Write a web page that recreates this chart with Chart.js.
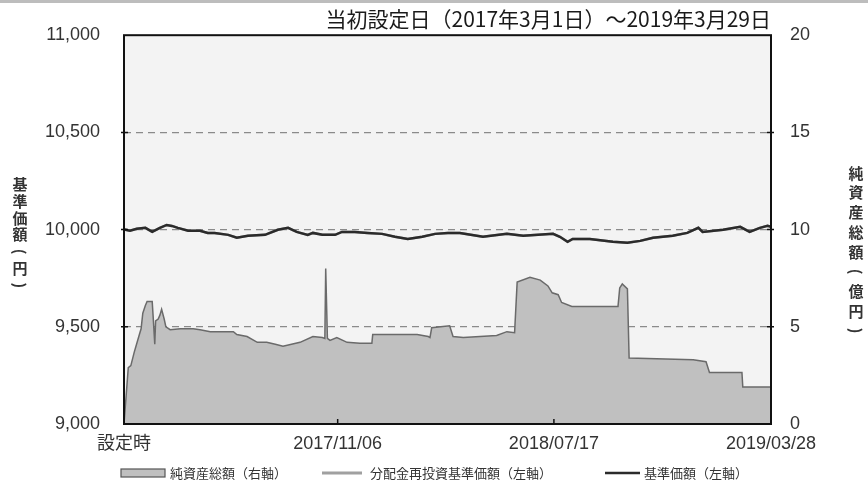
<!DOCTYPE html>
<html>
<head>
<meta charset="utf-8">
<script src="https://cdn.jsdelivr.net/npm/chart.js@4"></script>
<style>
html,body{margin:0;padding:0;background:#fff}
canvas{display:block}
</style>
</head>
<body>
<canvas id="chart" width="868" height="484"></canvas>
<script>
// days counted from 2017/03/01 (設定日)
const xTickDays = [0, 250, 503, 757];
const xTickLabels = ['設定時', '2017/11/06', '2018/07/17', '2019/03/28'];

// 純資産総額 (億円, right axis)
const netAssetDay = [0,5,8,12,14,18,20,22,25,27,33,34,36,37,40,42,44,47,49,54,66,81,89,101,128,132,144,156,167,177,186,206,221,232,235,236,238,241,249,261,276,290,291,343,356,358,360,381,385,397,436,448,457,460,475,487,496,501,508,512,524,578,580,583,589,591,666,681,685,723,724,757];
const netAsset = [0,2.9,3.0,3.7,4.0,4.6,4.9,5.7,6.1,6.3,6.3,5.6,4.1,5.3,5.4,5.6,5.9,5.4,5.0,4.85,4.9,4.9,4.85,4.75,4.75,4.6,4.5,4.2,4.2,4.1,4.0,4.2,4.5,4.45,4.4,8.0,4.4,4.3,4.45,4.2,4.15,4.15,4.6,4.6,4.5,4.45,4.95,5.05,4.5,4.45,4.55,4.75,4.7,7.3,7.55,7.4,7.1,6.75,6.65,6.25,6.05,6.05,7.0,7.2,6.95,3.4,3.3,3.2,2.65,2.65,1.9,1.9];

// 基準価額 (円, left axis)
const navDay = [0,7,15,25,33,42,50,56,63,75,89,98,106,122,132,145,165,180,192,202,215,221,232,247,255,270,285,302,317,332,349,364,379,393,420,448,467,502,510,519,525,545,572,589,604,619,642,659,672,677,701,721,732,744,753,757];
const navValue = [10000,9994,10004,10009,9988,10009,10024,10019,10009,9994,9994,9983,9983,9973,9958,9968,9973,9999,10009,9988,9973,9983,9973,9973,9988,9988,9983,9978,9963,9952,9963,9978,9983,9983,9963,9978,9968,9978,9963,9937,9952,9952,9937,9932,9942,9958,9968,9983,10009,9988,9999,10014,9988,10009,10019,10014];
// 分配金再投資基準価額: no distributions, sits under the NAV line
const reinvestValue = navValue.slice();

const titleText = '当初設定日（2017年3月1日）～2019年3月29日';
const leftTitle = '基準価額(円)';
const rightTitle = '純資産総額(億円)';

const tickFont = {family: "'Liberation Sans','Noto Sans CJK JP',sans-serif", size: 18};
const jpFont = "'Noto Sans CJK JP',sans-serif";

function pts(xs, ys){ return xs.map((x,i)=>({x, y: ys[i]})); }

// vertical text, brackets turned sideways
function drawVertical(ctx, text, x, y0, step){
  Array.from(text).forEach((ch,i)=>{
    const y = y0 + i*step;
    if (ch === '(' || ch === ')'){
      ctx.save();
      ctx.translate(x, y);
      ctx.rotate(Math.PI/2);
      ctx.fillText(ch, 0, 0);
      ctx.restore();
    } else {
      ctx.fillText(ch, x, y);
    }
  });
}

const decor = {
  id: 'decor',
  beforeDraw(chart){
    const {ctx, chartArea: a} = chart;
    ctx.save();
    ctx.fillStyle = '#fff';
    ctx.fillRect(0, 0, chart.width, chart.height);
    ctx.fillStyle = '#bdbdbd';
    ctx.fillRect(0, 0, chart.width, 3);
    ctx.fillStyle = '#f3f3f3';
    ctx.fillRect(a.left, a.top, a.right - a.left, a.bottom - a.top);
    ctx.restore();
  },
  afterDatasetsDraw(chart){
    const {ctx, chartArea: a, scales} = chart;
    ctx.save();
    ctx.strokeStyle = '#111';
    ctx.lineWidth = 2;
    ctx.strokeRect(a.left, a.top, a.right - a.left, a.bottom - a.top);
    ctx.lineWidth = 1.5;
    ctx.beginPath();
    [9500, 10000, 10500].forEach(v=>{
      const y = scales.y.getPixelForValue(v);
      ctx.moveTo(a.left - 3, y); ctx.lineTo(a.left + 4, y);
    });
    [5, 10, 15].forEach(v=>{
      const y = scales.y1.getPixelForValue(v);
      ctx.moveTo(a.right - 4, y); ctx.lineTo(a.right + 3, y);
    });
    xTickDays.slice(1, -1).forEach(v=>{
      const x = scales.x.getPixelForValue(v);
      ctx.moveTo(x, a.bottom); ctx.lineTo(x, a.bottom - 5);
    });
    ctx.stroke();
    ctx.restore();
  },
  afterDraw(chart){
    const ctx = chart.ctx;
    ctx.save();
    ctx.fillStyle = '#333';
    ctx.textAlign = 'center';
    ctx.textBaseline = 'middle';
    ctx.font = 'bold 15px ' + jpFont;
    drawVertical(ctx, leftTitle, 20, 184, 16.9);
    drawVertical(ctx, rightTitle, 856, 173, 19.7);

    // legend
    const ly = 473;
    ctx.font = '13px ' + jpFont;
    ctx.textAlign = 'left';
    ctx.fillStyle = '#c0c0c0';
    ctx.fillRect(121, ly - 4, 44, 8);
    ctx.strokeStyle = '#555';
    ctx.lineWidth = 1.2;
    ctx.strokeRect(121, ly - 4, 44, 8);
    ctx.fillStyle = '#333';
    ctx.fillText('純資産総額（右軸）', 170, ly);
    ctx.strokeStyle = '#a0a0a0';
    ctx.lineWidth = 3;
    ctx.beginPath(); ctx.moveTo(322, ly); ctx.lineTo(362, ly); ctx.stroke();
    ctx.fillText('分配金再投資基準価額（左軸）', 370, ly);
    ctx.strokeStyle = '#2b2b2b';
    ctx.lineWidth = 2.5;
    ctx.beginPath(); ctx.moveTo(605, ly); ctx.lineTo(640, ly); ctx.stroke();
    ctx.fillText('基準価額（左軸）', 644, ly);
    ctx.restore();
  }
};

new Chart(document.getElementById('chart'), {
  type: 'line',
  data: {
    datasets: [
      {
        label: '基準価額（左軸）',
        data: pts(navDay, navValue),
        yAxisID: 'y',
        borderColor: '#2b2b2b',
        borderWidth: 2.5,
        pointRadius: 0,
        order: 1
      },
      {
        label: '分配金再投資基準価額（左軸）',
        data: pts(navDay, reinvestValue),
        yAxisID: 'y',
        borderColor: '#a0a0a0',
        borderWidth: 2.5,
        pointRadius: 0,
        order: 2
      },
      {
        label: '純資産総額（右軸）',
        data: pts(netAssetDay, netAsset),
        yAxisID: 'y1',
        borderColor: '#6a6a6a',
        backgroundColor: '#c0c0c0',
        borderWidth: 1.5,
        fill: 'origin',
        pointRadius: 0,
        order: 3
      }
    ]
  },
  options: {
    responsive: false,
    animation: false,
    devicePixelRatio: 1,
    layout: {padding: 0},
    plugins: {
      legend: {display: false},
      tooltip: {enabled: false},
      title: {
        display: true,
        text: titleText,
        align: 'end',
        fullSize: false,
        color: '#1a1a1a',
        font: {family: jpFont, size: 21, weight: 'normal'},
        padding: {top: 6, bottom: 4}
      }
    },
    scales: {
      x: {
        type: 'linear',
        min: 0,
        max: 757,
        afterBuildTicks: s => { s.ticks = xTickDays.map(v=>({value: v})); },
        afterFit: s => { s.height = 60; },
        grid: {display: false, drawTicks: false},
        border: {display: false},
        ticks: {
          autoSkip: false,
          maxRotation: 0,
          padding: 9,
          color: '#333',
          font: tickFont,
          callback: v => xTickLabels[xTickDays.indexOf(v)]
        }
      },
      y: {
        position: 'left',
        min: 9000,
        max: 11000,
        afterFit: s => { s.width = 124; },
        grid: {
          drawTicks: false,
          lineWidth: 1.3,
          color: c => (c.tick && (c.tick.value === 9000 || c.tick.value === 11000)) ? 'rgba(0,0,0,0)' : '#8a8a8a'
        },
        border: {display: false, dash: [7, 5]},
        ticks: {
          stepSize: 500,
          padding: 24,
          color: '#333',
          font: tickFont,
          callback: v => v.toLocaleString('en-US')
        }
      },
      y1: {
        position: 'right',
        min: 0,
        max: 20,
        afterFit: s => { s.width = 97; },
        grid: {display: false, drawTicks: false},
        border: {display: false},
        ticks: {
          stepSize: 5,
          padding: 19,
          color: '#333',
          font: tickFont
        }
      }
    }
  },
  plugins: [decor]
});
</script>
</body>
</html>
